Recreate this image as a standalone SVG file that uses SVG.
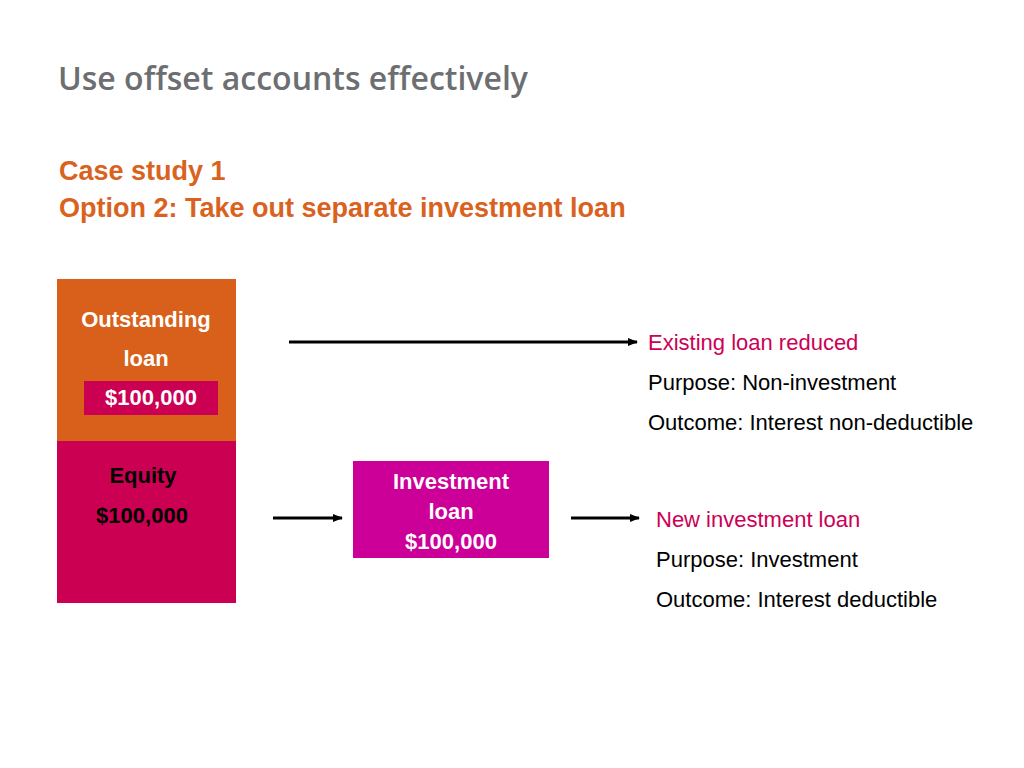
<svg xmlns="http://www.w3.org/2000/svg" width="1024" height="768" viewBox="0 0 1024 768">
<defs>
<marker id="ah" markerWidth="10" markerHeight="8" refX="9" refY="4" orient="auto" markerUnits="userSpaceOnUse"><path d="M0,0 L10,4 L0,8 z" fill="#000"/></marker>
<style>
.w{font-family:"Liberation Sans",Arial,sans-serif;font-weight:bold;font-size:22px;fill:#fff;text-anchor:middle}
.b{font-family:"Liberation Sans",Arial,sans-serif;font-size:22px;fill:#000}
.p{font-family:"Liberation Sans",Arial,sans-serif;font-size:22px;fill:#CC0055}
.h{font-family:"Liberation Sans",Arial,sans-serif;font-weight:bold;font-size:27px;fill:#D9621E}
.c{stroke:#000;stroke-width:3;marker-end:url(#ah)}
</style>
</defs>
<rect width="1024" height="768" fill="#fff"/>
<text x="58" y="90" font-family="'Open Sans',sans-serif" font-weight="600" font-size="32" fill="#6D6E71">Use offset accounts effectively</text>
<text class="h" x="59" y="180">Case study 1</text>
<text class="h" x="59" y="217">Option 2: Take out separate investment loan</text>
<g id="outstanding"><rect x="57" y="279" width="179" height="162" fill="#D9601A"/>
<text class="w" x="146" y="327">Outstanding</text><text class="w" x="146" y="366">loan</text>
<rect x="84" y="381" width="134" height="34" fill="#CC0052"/><text class="w" x="151" y="405">$100,000</text></g>
<g id="equity"><rect x="57" y="441" width="179" height="162" fill="#CC0052"/>
<text class="w" x="143" y="483" fill="#000" style="fill:#000">Equity</text><text class="w" x="142" y="523" style="fill:#000">$100,000</text></g>
<g id="investment"><rect x="353" y="461" width="196" height="97" fill="#CC0099"/>
<text class="w" x="451" y="489">Investment</text><text class="w" x="451" y="519">loan</text><text class="w" x="451" y="549">$100,000</text></g>
<g id="connectors">
<line class="c" x1="289" y1="342" x2="637" y2="342"/>
<line class="c" x1="273" y1="518" x2="342" y2="518"/>
<line class="c" x1="571" y1="518" x2="639" y2="518"/>
</g>
<g id="existing"><text class="p" x="648" y="350">Existing loan reduced</text>
<text class="b" x="648" y="390">Purpose: Non-investment</text>
<text class="b" x="648" y="430">Outcome: Interest non-deductible</text></g>
<g id="new"><text class="p" x="656" y="527">New investment loan</text>
<text class="b" x="656" y="567">Purpose: Investment</text>
<text class="b" x="656" y="607">Outcome: Interest deductible</text></g>
</svg>
